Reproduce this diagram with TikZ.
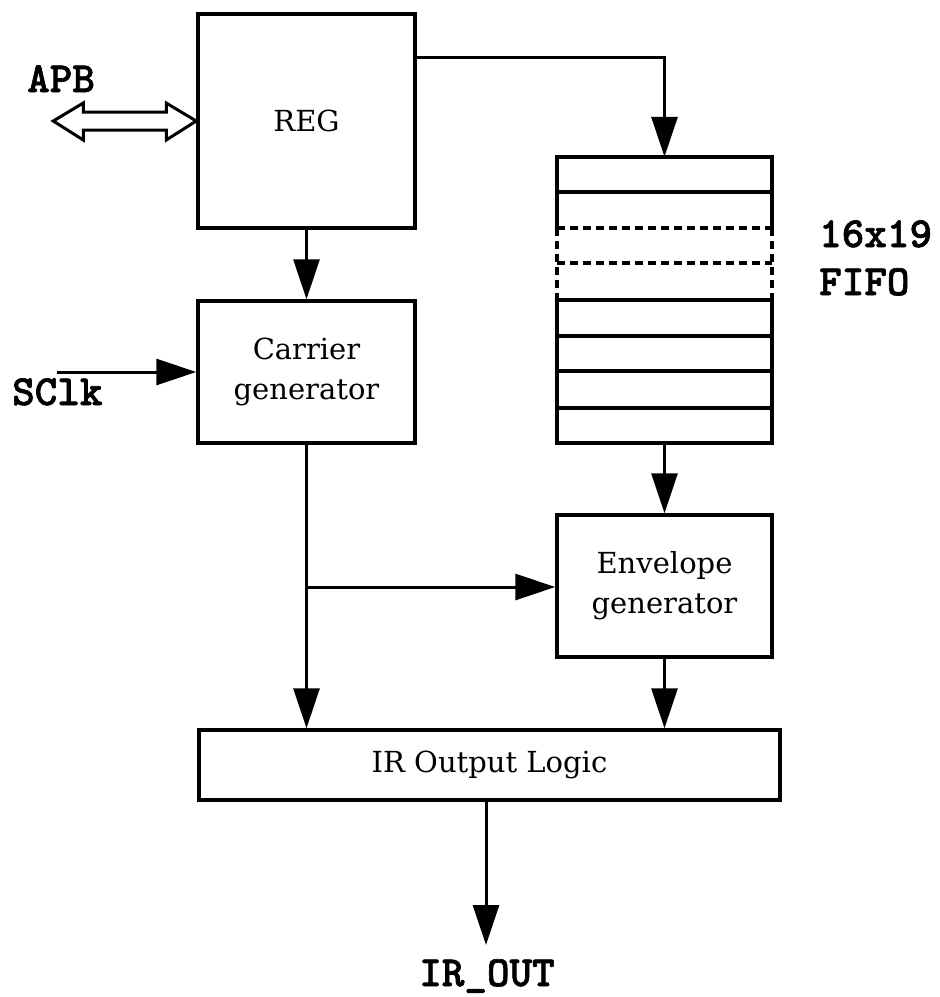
\documentclass[tikz,border=0pt]{standalone}
\usepackage{fontspec}
\setmainfont{DejaVu Serif}
\newfontfamily\monob{lmmonolt10-bold.otf}[FakeBold=1.5]
\usetikzlibrary{arrows.meta}
\tikzset{
  blk/.style={draw, line width=3.5pt, rectangle, inner sep=0pt, align=center,
    font=\fontsize{29}{40}\selectfont},
  arr/.style={line width=3pt, -{Triangle[length=40pt,width=26pt]}},
  lbl/.style={font=\monob\fontsize{43}{48}\selectfont, inner sep=0pt, align=left},
  fifoline/.style={line width=3.5pt},
  fifodash/.style={line width=3.5pt, dash pattern=on 8pt off 5pt}
}
\begin{document}
\begin{tikzpicture}[x=1pt,y=-1pt]
\useasboundingbox (0,0) rectangle (940,997);
% blocks
\node[blk, minimum width=217pt, minimum height=214pt] (reg) at (306.5,121) {REG};
\node[blk, minimum width=217pt, minimum height=142pt] (car) at (306.5,372) {Carrier\\generator};
\node[blk, minimum width=215pt, minimum height=142pt] (env) at (664.5,586) {Envelope\\generator};
\node[blk, minimum width=581pt, minimum height=70pt] (ir) at (489.5,765) {IR Output Logic};
\node[inner sep=0pt, minimum width=215pt, minimum height=286pt] (fifo) at (664.5,300) {};
% FIFO rows
\draw[fifoline] (557,228) -- (557,157) -- (772,157) -- (772,228);
\draw[fifoline] (557,192) -- (772,192);
\draw[fifodash] (557,228) -- (772,228);
\draw[fifodash] (557,263) -- (772,263);
\draw[fifodash] (557,228) -- (557,300);
\draw[fifodash] (772,228) -- (772,300);
\draw[fifoline] (557,300) rectangle (772,443);
\draw[fifoline] (557,336) -- (772,336);
\draw[fifoline] (557,371) -- (772,371);
\draw[fifoline] (557,408) -- (772,408);
% labels
\node[lbl, anchor=base west] (apb) at (27,92) {APB};
\node[lbl, anchor=base west] (sclk) at (12,405) {SClk};
\node[lbl, anchor=base west] (fifolbl) at (819,295) {16x19\\FIFO};
\node[lbl, anchor=base] (irout) at (487,986) {IR\_OUT};
% APB double arrow
\begin{scope}[shift={(reg.west)}]
\draw[line width=3pt, fill=white, line join=miter]
  (-143,0) -- (-113,-18) -- (-113,-9) -- (-30,-9) -- (-30,-18) -- (0,0)
  -- (-30,19) -- (-30,9) -- (-113,9) -- (-113,19) -- cycle;
\end{scope}
% connectors
\coordinate (sclkin) at (57,372);
\draw[arr] (sclkin) -- (car.west |- sclkin);
\draw[arr] (reg.east |- 0,57) -| (fifo.north);
\draw[arr] (reg.south) -- (car.north);
\draw[arr] (fifo.south) -- (env.north);
\draw[arr] (car.south) -- (car.south |- ir.north);
\coordinate (br) at (306.5,587);
\draw[arr] (br) -- (env.west |- br);
\draw[arr] (env.south) -- (env.south |- ir.north);
\coordinate (outtip) at (486,945);
\draw[arr] (ir.south -| outtip) -- (outtip);
\end{tikzpicture}
\end{document}
